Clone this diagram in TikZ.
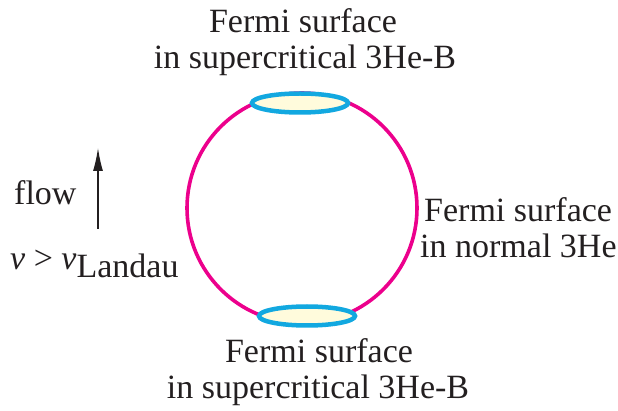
\documentclass[tikz,border=0pt]{standalone}
\usepackage{fontspec}
\setmainfont{Liberation Serif}
\usetikzlibrary{arrows.meta,shapes.geometric}
\definecolor{pinkc}{HTML}{EC008C}
\definecolor{bluec}{HTML}{12A8E0}
\definecolor{fillc}{HTML}{FFFBDC}
\definecolor{txt}{HTML}{231F20}
\tikzset{
  lbl/.style={font=\rmfamily\fontsize{34}{36}\selectfont, text=txt, inner sep=0pt, align=center},
  fs/.style={draw=bluec, line width=4.5pt, fill=fillc, ellipse, minimum width=96pt, minimum height=19pt, inner sep=0pt},
}
\begin{document}
\begin{tikzpicture}[x=1pt,y=-1pt]
\useasboundingbox (0,0) rectangle (618,411);
\draw[pinkc, line width=3.6pt] (302,208) circle[radius=115];
\node[fs] (top) at (300,103) {};
\node[fs] (bot) at (307,316) {};
\node[lbl, anchor=base] (t1) at (303,33) {Fermi surface};
\node[lbl, anchor=base] (t2) at (305,69) {in supercritical 3He-B};
\node[lbl, anchor=base] (b1) at (319,362) {Fermi surface};
\node[lbl, anchor=base] (b2) at (318,398) {in supercritical 3He-B};
\node[lbl, anchor=base west] (r1) at (424,222) {Fermi surface};
\node[lbl, anchor=base west] (r2) at (420,258) {in normal 3He};
\node[lbl, anchor=base west] (fl) at (14,205) {flow};
\coordinate (a1) at (98,229);
\coordinate (a2) at (98,148);
\draw[txt, line width=1.2pt, -{Latex[length=23pt,width=10pt]}] (a1) -- (a2);
\node[lbl, anchor=base west] (v) at (10,270) {\textit{v} > \textit{v}\raisebox{-8pt}{Landau}};
\end{tikzpicture}
\end{document}
